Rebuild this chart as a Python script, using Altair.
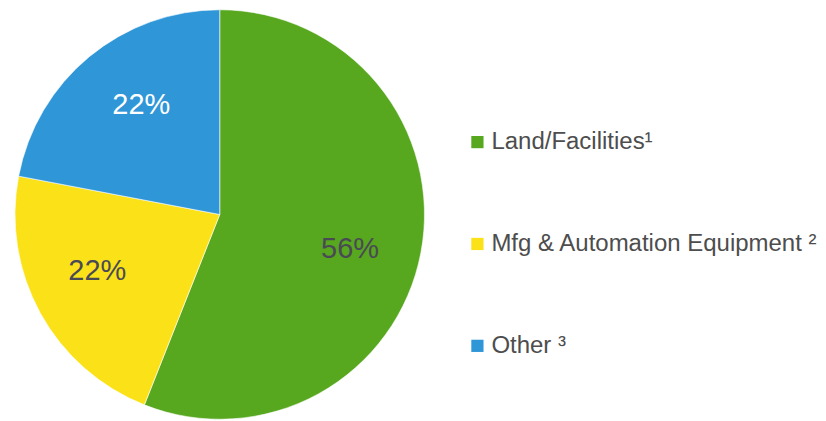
import altair as alt
import pandas as pd

categories = ["Land/Facilities¹", "Mfg & Automation Equipment ²", "Other ³"]
values = [56, 22, 22]
labels = ["56%", "22%", "22%"]
order = [1, 2, 3]
colors = ["#57A71F", "#FBE118", "#2F96D8"]

df = pd.DataFrame({"category": categories, "value": values, "label": labels, "order": order})

base = alt.Chart(df).encode(
    theta=alt.Theta("value:Q", stack=True),
    order=alt.Order("order:Q"),
)

arcs = base.mark_arc(radius=205, stroke="white", strokeWidth=0.6).encode(
    color=alt.Color(
        "category:N",
        scale=alt.Scale(domain=categories, range=colors),
        sort=categories,
        legend=alt.Legend(
            title=None,
            orient="none",
            legendX=458,
            legendY=118,
            symbolType="square",
            symbolSize=150,
            symbolStrokeWidth=0,
            labelFont="Liberation Sans",
            labelFontSize=24,
            labelColor="#4d4d4d",
            labelOffset=2,
            rowPadding=78,
            labelLimit=400,
        ),
    )
)

text = base.mark_text(radius=135, thetaOffset=0.07, font="Liberation Sans", fontSize=29).encode(
    text="label:N",
    color=alt.condition(alt.datum.category == "Other ³", alt.value("white"), alt.value("#4a4a55")),
)

chart = (
    alt.layer(arcs, text)
    .properties(width=424, height=405, padding=0)
    .configure_view(stroke=None)
)

chart.save("out.html", embed_options={"renderer": "svg", "actions": False})
